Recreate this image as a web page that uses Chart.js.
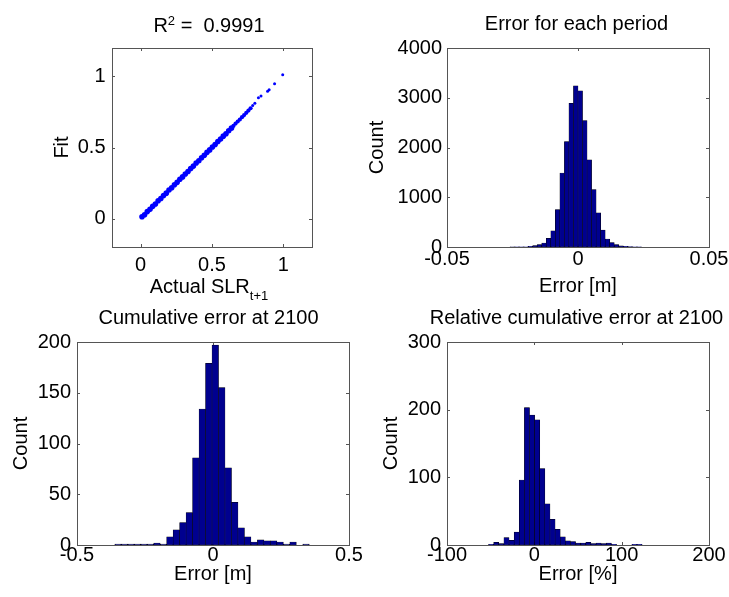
<!DOCTYPE html>
<html lang="en">
<head>
<meta charset="utf-8">
<title>SLR emulator: fit and error histograms</title>
<script src="https://cdn.jsdelivr.net/npm/chart.js"></script>
<style>
  html, body { margin: 0; padding: 0; background: #ffffff; overflow: hidden; }
  body { position: relative; width: 729px; height: 597px; }
  canvas { position: absolute; }
</style>
</head>
<body>
<canvas id="fitPanel" width="364" height="304" style="left:0px;top:0px"></canvas>
<canvas id="periodPanel" width="425" height="300" style="left:364px;top:0px"></canvas>
<canvas id="relPanel" width="425" height="297" style="left:364px;top:300px"></canvas>
<canvas id="cumPanel" width="417" height="297" style="left:0px;top:300px"></canvas>
<script>
const FONT_FAMILY = "'Liberation Sans', Arial, Helvetica, sans-serif";
const INK = '#000000';
const AXIS_INK = '#555555';
const BAR_FILL = '#00008f';
const BAR_EDGE = '#000000';
const DOT_BLUE = '#0000ff';
const TICK_LEN = 3;

// ---- Fit vs actual sea-level rise (next step) ----
const rSquared = 0.9991;
const bandActual = [0.010, 0.028, 0.047, 0.066, 0.085, 0.104, 0.123, 0.142, 0.161, 0.180, 0.199, 0.218,
                    0.237, 0.256, 0.275, 0.294, 0.313, 0.332, 0.351, 0.370, 0.389, 0.408, 0.427, 0.446,
                    0.465, 0.484, 0.503, 0.522, 0.541, 0.560, 0.579, 0.598, 0.617, 0.636];
const bandFit    = [0.013, 0.027, 0.049, 0.065, 0.086, 0.103, 0.125, 0.141, 0.162, 0.179, 0.201, 0.217,
                    0.238, 0.255, 0.277, 0.293, 0.314, 0.331, 0.352, 0.369, 0.391, 0.407, 0.428, 0.445,
                    0.466, 0.483, 0.504, 0.521, 0.542, 0.559, 0.580, 0.597, 0.618, 0.636];
const upperActual = [0.650, 0.665, 0.680, 0.695, 0.710, 0.725, 0.740, 0.755, 0.770];
const upperFit    = [0.652, 0.668, 0.683, 0.697, 0.713, 0.728, 0.744, 0.760, 0.776];
const tailActual = [0.785, 0.800, 0.825, 0.843, 0.889, 0.900, 0.938, 0.995];
const tailFit    = [0.795, 0.812, 0.850, 0.862, 0.895, 0.906, 0.948, 1.012];
const fitTicks = [0, 0.5, 1];

// ---- Error for each period [m] ----
const periodCenters = [-0.025085, -0.023355, -0.021625, -0.019895, -0.018165, -0.016435, -0.014705,
                       -0.012975, -0.011245, -0.009515, -0.007785, -0.006055, -0.004325, -0.002595,
                       -0.000865, 0.000865, 0.002595, 0.004325, 0.006055, 0.007785, 0.009515,
                       0.011245, 0.012975, 0.014705, 0.016435, 0.018165, 0.019895, 0.021625, 0.023355];
const periodCounts  = [1, 2, 3, 5, 13, 27, 47, 80, 173, 327, 753, 1487, 2120, 2887, 3240, 3140,
                       2540, 1753, 1153, 687, 340, 160, 87, 47, 25, 12, 6, 3, 2];
const periodXTicks = [-0.05, 0, 0.05];
const periodYTicks = [0, 1000, 2000, 3000, 4000];

// ---- Cumulative error at 2100 [m] ----
const cumCenters = [-0.349085, -0.325255, -0.301425, -0.277595, -0.253765, -0.229935, -0.206105,
                    -0.182275, -0.158445, -0.134615, -0.110785, -0.086955, -0.063125, -0.039295,
                    -0.015465, 0.008365, 0.032195, 0.056025, 0.079855, 0.103685, 0.127515,
                    0.151345, 0.175175, 0.199005, 0.222835, 0.246665, 0.270495, 0.294325,
                    0.318155, 0.341985];
const cumCounts  = [1, 1, 1, 1, 1, 1, 2, 1, 8, 15, 22, 32, 86, 134, 179, 197, 155, 76, 42, 17,
                    8, 3, 5, 4, 4, 3, 1, 3, 0, 1];
const cumXTicks = [-0.5, 0, 0.5];
const cumYTicks = [0, 50, 100, 150, 200];

// ---- Relative cumulative error at 2100 [%] ----
const relCenters = [-49.47, -43.61, -37.75, -31.89, -26.03, -20.17, -14.31, -8.45, -2.59, 3.27,
                    9.13, 14.99, 20.85, 26.71, 32.57, 38.43, 44.29, 50.15, 56.01, 61.87,
                    67.73, 73.59, 79.45, 85.31, 91.17, 97.03, 102.89, 108.75, 114.61, 120.47];
const relCounts  = [1, 4, 2, 11, 7, 19, 96, 203, 192, 185, 113, 61, 38, 23, 12, 6, 5, 3, 3, 4,
                    2, 3, 2, 3, 1, 0, 0, 0, 1, 1];
const relXTicks = [-100, 0, 100, 200];
const relYTicks = [0, 100, 200, 300];

function font(size) { return { family: FONT_FAMILY, size: size, weight: 'normal', lineHeight: 1.2 }; }
function points(xs, ys) { return xs.map((x, i) => ({ x: x, y: ys[i] })); }

// Linear axis with fixed tick values and a fixed box size, so plot areas line up
function axis(o) {
  return {
    type: 'linear', min: o.min, max: o.max, offset: false,
    grid: { display: false, drawTicks: false },
    border: { display: false },
    ticks: { font: font(20), color: INK, padding: o.tickPad, autoSkip: false, maxRotation: 0,
             callback: v => String(v) },
    afterBuildTicks: s => { s.ticks = o.ticks.map(v => ({ value: v })); },
    afterFit: s => {
      if (o.width !== undefined) s.width = o.width;
      if (o.height !== undefined) s.height = o.height;
    },
    title: o.title ? { display: true, text: o.title, font: font(20), color: INK, padding: o.titlePad }
                   : { display: false }
  };
}

// Empty right-hand strip; keeps the full-width title centred over the plot
function rightStrip(width) {
  return {
    type: 'linear', position: 'right', min: 0, max: 1,
    grid: { display: false, drawTicks: false },
    border: { display: false },
    ticks: { display: false },
    afterFit: s => { s.width = width; }
  };
}

// Boxed axes with short inward tick marks on all four sides
const axesFrame = {
  id: 'axesFrame',
  beforeDatasetsDraw(chart) {
    const { ctx, chartArea: a } = chart;
    const xs = chart.scales.x, ys = chart.scales.y;
    ctx.save();
    ctx.strokeStyle = AXIS_INK;
    ctx.lineWidth = 1;
    ctx.beginPath();
    xs.ticks.forEach(t => {
      const p = Math.round(xs.getPixelForValue(t.value)) + 0.5;
      ctx.moveTo(p, a.bottom); ctx.lineTo(p, a.bottom - TICK_LEN);
      ctx.moveTo(p, a.top); ctx.lineTo(p, a.top + TICK_LEN);
    });
    ys.ticks.forEach(t => {
      const p = Math.round(ys.getPixelForValue(t.value)) + 0.5;
      ctx.moveTo(a.left, p); ctx.lineTo(a.left + TICK_LEN, p);
      ctx.moveTo(a.right, p); ctx.lineTo(a.right - TICK_LEN, p);
    });
    ctx.stroke();
    ctx.restore();
  },
  afterDatasetsDraw(chart) {
    const { ctx, chartArea: a } = chart;
    ctx.save();
    ctx.strokeStyle = AXIS_INK;
    ctx.lineWidth = 1;
    ctx.strokeRect(Math.round(a.left) + 0.5, Math.round(a.top) + 0.5,
                   Math.round(a.right - a.left), Math.round(a.bottom - a.top));
    ctx.restore();
  }
};

// Text runs with super/subscripts, centred on a point
function drawRuns(ctx, runs, centerX, baseY) {
  let total = 0;
  const widths = runs.map(r => {
    ctx.font = r.size + 'px ' + FONT_FAMILY;
    const w = ctx.measureText(r.text).width;
    total += w;
    return w;
  });
  let x = centerX - total / 2;
  runs.forEach((r, i) => {
    ctx.font = r.size + 'px ' + FONT_FAMILY;
    ctx.fillText(r.text, x, baseY + r.shift);
    x += widths[i];
  });
}

const fitLabels = {
  id: 'fitLabels',
  afterDraw(chart) {
    const ctx = chart.ctx;
    ctx.save();
    ctx.fillStyle = INK;
    ctx.textAlign = 'left';
    ctx.textBaseline = 'alphabetic';
    drawRuns(ctx, [
      { text: 'R', size: 20, shift: 0 },
      { text: '2', size: 13, shift: -7 },
      { text: ' =  ' + rSquared.toFixed(4), size: 20, shift: 0 }
    ], 209, 31.7);
    drawRuns(ctx, [
      { text: 'Actual SLR', size: 20, shift: 0 },
      { text: 't+1', size: 13, shift: 7.5 }
    ], 209, 292.6);
    ctx.restore();
  }
};

const common = {
  responsive: false, animation: false, devicePixelRatio: 1, events: []
};

new Chart(document.getElementById('fitPanel'), {
  type: 'scatter',
  data: {
    datasets: [
      { data: points(bandActual, bandFit), pointRadius: 2.8 },
      { data: points(upperActual, upperFit), pointRadius: 2.1 },
      { data: points(tailActual, tailFit), pointRadius: 1.5 }
    ].map(d => Object.assign(d, {
      pointBackgroundColor: DOT_BLUE, pointBorderWidth: 0, pointHoverRadius: d.pointRadius,
      showLine: false
    }))
  },
  options: Object.assign({}, common, {
    layout: { padding: { left: 0, top: 48, right: 52, bottom: 0 } },
    plugins: { legend: { display: false }, tooltip: { enabled: false }, title: { display: false } },
    scales: {
      x: axis({ min: -0.2, max: 1.2, ticks: fitTicks, height: 57, tickPad: 6.7 }),
      y: axis({ min: -0.2, max: 1.2, ticks: fitTicks, width: 112, tickPad: 6.5,
                title: 'Fit', titlePad: { top: 50.1 } })
    }
  }),
  plugins: [axesFrame, fitLabels]
});

function histogram(id, c) {
  return new Chart(document.getElementById(id), {
    type: 'bar',
    data: {
      datasets: [{
        data: points(c.centers, c.counts),
        backgroundColor: BAR_FILL, borderColor: BAR_EDGE, borderWidth: 0.5, borderSkipped: false,
        barPercentage: 1, categoryPercentage: 1
      }]
    },
    options: Object.assign({}, common, {
      layout: { padding: 0 },
      plugins: {
        legend: { display: false }, tooltip: { enabled: false },
        title: { display: true, text: c.title, color: INK, font: font(20),
                 padding: { top: c.titleTop, bottom: c.titleBottom } }
      },
      scales: {
        x: axis({ min: c.xMin, max: c.xMax, ticks: c.xTicks, height: c.xHeight, tickPad: c.xTickPad,
                  title: c.xTitle, titlePad: { bottom: c.xTitlePad } }),
        y: axis({ min: 0, max: c.yMax, ticks: c.yTicks, width: c.yWidth, tickPad: c.yTickPad,
                  title: 'Count', titlePad: { top: c.yTitlePad } }),
        margin: rightStrip(c.padRight)
      }
    }),
    plugins: [axesFrame]
  });
}

histogram('periodPanel', {
  centers: periodCenters, counts: periodCounts, title: 'Error for each period',
  padRight: 80, titleTop: 12.8, titleBottom: 11.2,
  xMin: -0.05, xMax: 0.05, xTicks: periodXTicks, xHeight: 53, xTickPad: 0.7, xTitle: 'Error [m]', xTitlePad: 1.3,
  yMax: 4000, yTicks: periodYTicks, yWidth: 83, yTickPad: 5, yTitlePad: 1.4
});

histogram('relPanel', {
  centers: relCenters, counts: relCounts, title: 'Relative cumulative error at 2100',
  padRight: 80, titleTop: 6.1, titleBottom: 11.9,
  xMin: -100, xMax: 200, xTicks: relXTicks, xHeight: 52, xTickPad: -2, xTitle: 'Error [%]', xTitlePad: 10.9,
  yMax: 300, yTicks: relYTicks, yWidth: 83, yTickPad: 6, yTitlePad: 15.4
});

histogram('cumPanel', {
  centers: cumCenters, counts: cumCounts, title: 'Cumulative error at 2100',
  padRight: 68, titleTop: 6.1, titleBottom: 11.9,
  xMin: -0.5, xMax: 0.5, xTicks: cumXTicks, xHeight: 52, xTickPad: -2, xTitle: 'Error [m]', xTitlePad: 10.9,
  yMax: 200, yTicks: cumYTicks, yWidth: 77, yTickPad: 6, yTitlePad: 9.4
});
</script>
</body>
</html>
